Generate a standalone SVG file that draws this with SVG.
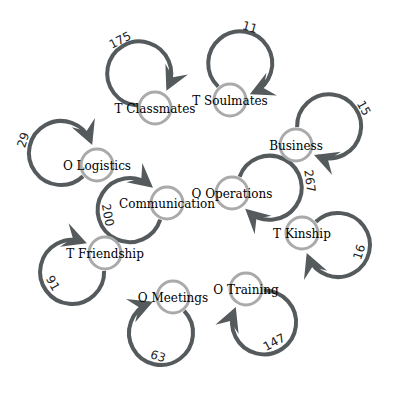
<svg xmlns="http://www.w3.org/2000/svg" width="400" height="400" viewBox="0 0 400 400">
<style>
.loop{fill:none;stroke:#555a5d;stroke-width:4;marker-end:url(#arr)}
.node circle{fill:#fff;stroke:#aaaaaa;stroke-width:3}
.node text{font-family:"DejaVu Serif",serif;font-size:12px;fill:#000;text-anchor:middle}
.elabel{font-family:"DejaVu Sans",sans-serif;font-size:12px;fill:#222;text-anchor:middle}
</style>
<defs>
<marker id="arr" markerUnits="userSpaceOnUse" markerWidth="30" markerHeight="30" viewBox="-27 -15 30 30" refX="-4" refY="0" orient="auto" overflow="visible">
<path d="M0,0 L-24,-12.5 L-15,0 L-24,12.5 Z" fill="#555a5d"/>
</marker>
</defs>
<rect width="400" height="400" fill="#fff"/>
<g id="connectors">
<path class="loop" d="M137.3,105.4 A32,32 0 1,1 168.1,87.2"/>
<path class="loop" d="M218.2,86.6 A32,32 0 1,1 253.5,92.5"/>
<path class="loop" d="M83.0,176.2 A32,32 0 1,1 90.7,141.2"/>
<path class="loop" d="M297.1,127.1 A32,32 0 1,1 317.8,156.3"/>
<path class="loop" d="M160.2,219.6 A32,32 0 1,1 149.9,185.3"/>
<path class="loop" d="M239.6,176.8 A32,32 0 1,1 248.2,211.5"/>
<path class="loop" d="M104.1,270.9 A32,32 0 1,1 83.1,241.9"/>
<path class="loop" d="M315.9,221.8 A32,32 0 1,1 308.2,256.8"/>
<path class="loop" d="M184.2,310.9 A32,32 0 1,1 149.2,303.2"/>
<path class="loop" d="M263.8,290.4 A32,32 0 1,1 234.3,310.7"/>
<g id="edge-labels">
<text class="elabel" transform="translate(120,40) rotate(-27)" y="4.3">175</text>
<text class="elabel" transform="translate(250,27) rotate(15.5)" y="4.3">11</text>
<text class="elabel" transform="translate(23,140) rotate(-71.6)" y="4.3">29</text>
<text class="elabel" transform="translate(364,108) rotate(60.7)" y="4.3">15</text>
<text class="elabel" transform="translate(310,181) rotate(82.1)" y="4.3">267</text>
<text class="elabel" transform="translate(108,215) rotate(79.3)" y="4.3">200</text>
<text class="elabel" transform="translate(53,283) rotate(60.1)" y="4.3">91</text>
<text class="elabel" transform="translate(359,252) rotate(-71.6)" y="4.3">16</text>
<text class="elabel" transform="translate(158,356) rotate(18.4)" y="4.3">63</text>
<text class="elabel" transform="translate(274,342) rotate(-28.5)" y="4.3">147</text>
</g>
</g>
<g id="node-classmates" class="node"><circle cx="155" cy="108" r="16"/><text x="155" y="113">T Classmates</text></g>
<g id="node-soulmates" class="node"><circle cx="230" cy="100" r="16"/><text x="230" y="105">T Soulmates</text></g>
<g id="node-logistics" class="node"><circle cx="97" cy="165" r="16"/><text x="97" y="170">O Logistics</text></g>
<g id="node-business" class="node"><circle cx="296" cy="145" r="16"/><text x="296" y="150">Business</text></g>
<g id="node-communication" class="node"><circle cx="167" cy="203" r="16"/><text x="167" y="208">Communication</text></g>
<g id="node-operations" class="node"><circle cx="232" cy="193" r="16"/><text x="232" y="198">O Operations</text></g>
<g id="node-friendship" class="node"><circle cx="105" cy="253" r="16"/><text x="105" y="258">T Friendship</text></g>
<g id="node-kinship" class="node"><circle cx="302" cy="233" r="16"/><text x="302" y="238">T Kinship</text></g>
<g id="node-meetings" class="node"><circle cx="173" cy="297" r="16"/><text x="173" y="302">O Meetings</text></g>
<g id="node-training" class="node"><circle cx="246" cy="289" r="16"/><text x="246" y="294">O Training</text></g>
</svg>
